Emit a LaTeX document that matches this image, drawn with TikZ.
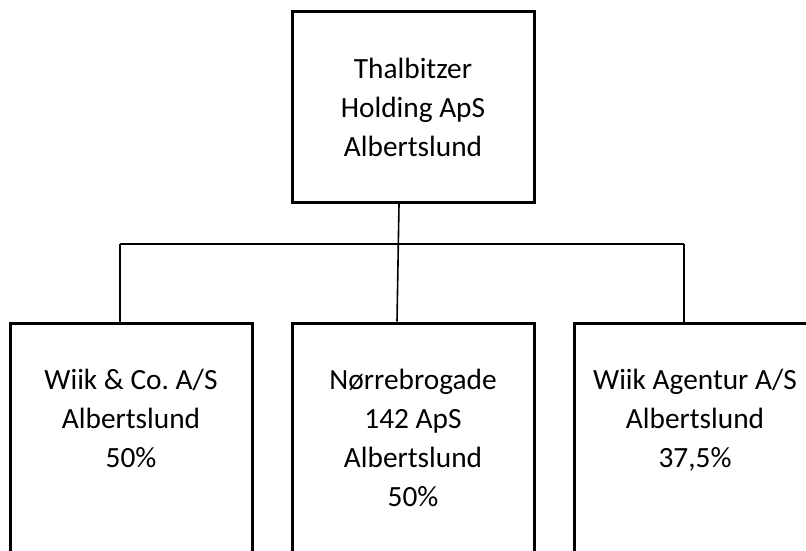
\documentclass[tikz,border=0pt]{standalone}
\usepackage{fontspec}
\setmainfont{Carlito}
\usetikzlibrary{positioning}
\frenchspacing

\tikzset{
	firm/.style={draw, line width=2.25pt, minimum width=181.5pt, inner sep=0pt},
	firmtext/.style={align=center, inner sep=0pt, font=\fontsize{22}{29.25}\selectfont},
	link/.style={line width=1.2pt}
}

\begin{document}
\begin{tikzpicture}[x=0.75pt, y=-0.75pt]
				\useasboundingbox (0,0) rectangle (806,550);
				\clip (0,0) rectangle (806,550);
				
				\node[firm, minimum height=143.25pt, firmtext] (holding) at (413,107) {Thalbitzer\\Holding ApS\\Albertslund};
				
				\node[firm, minimum height=210pt, anchor=north] (wiik) at (131,321.5) {};
				\node[firm, minimum height=210pt, anchor=north] (noerre) at (413,321.5) {};
				\node[firm, minimum height=210pt, anchor=north] (agentur) at (695,321.5) {};
				
				\node[firmtext, below=35.5pt of wiik.north] (wiiktext) {Wiik \& Co. A/S\\Albertslund\\50\%};
				\node[firmtext, below=35.5pt of noerre.north] (noerretext) {Nørrebrogade\\142 ApS\\Albertslund\\50\%};
				\node[firmtext, below=35.5pt of agentur.north] (agenturtext) {Wiik Agentur A/S\\Albertslund\\37,5\%};
				
				\coordinate (barleft) at (120,244);
				\coordinate (barright) at (684,244);
				\draw[link] (barleft) -- (barright);
				\draw[link] (barleft) -- (barleft |- wiik.north);
				\draw[link] (barright) -- (barright |- agentur.north);
				\draw[link] ([xshift=-10.5pt]holding.south) -- ([xshift=-12pt]noerre.north);
			\end{tikzpicture}
\end{document}
